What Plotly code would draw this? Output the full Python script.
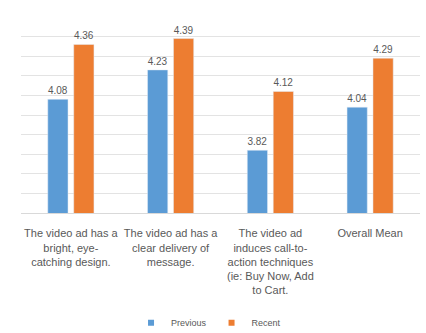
import plotly.graph_objects as go

categories = [
    "The video ad has a<br>bright, eye-<br>catching design.",
    "The video ad has a<br>clear delivery of<br>message.",
    "The video ad<br>induces call-to-<br>action techniques<br>(ie: Buy Now, Add<br>to Cart.",
    "Overall Mean",
]
series_names = ["Previous", "Recent"]
previous = [4.08, 4.23, 3.82, 4.04]
recent = [4.36, 4.39, 4.12, 4.29]
colors = ["#5B9BD5", "#ED7D31"]

font_family = "Liberation Sans, Arial, sans-serif"
label_color = "#595959"

fig = go.Figure()
for name, values, color in zip(series_names, [previous, recent], colors):
    fig.add_trace(go.Bar(
        name=name, x=categories, y=values,
        marker_color=color, legendgroup=name, showlegend=False,
        texttemplate="%{y:.2f}", textposition="outside",
        textfont=dict(size=10, color=label_color, family=font_family),
        cliponaxis=False,
    ))
# small square legend keys
for name, color in zip(series_names, colors):
    fig.add_trace(go.Scatter(
        name=name, x=[None], y=[None], mode="markers",
        marker=dict(symbol="square", size=6, color=color),
        legendgroup=name, showlegend=True, hoverinfo="skip",
    ))

fig.update_layout(
    width=426, height=333,
    margin=dict(l=21, r=6, t=17, b=120, autoexpand=False),
    paper_bgcolor="white", plot_bgcolor="white",
    barmode="group", bargap=0.48, bargroupgap=0.22,
    font=dict(family=font_family, size=10, color=label_color),
    showlegend=True,
    legend=dict(
        orientation="h", x=0.47, xanchor="center", y=-0.56, yanchor="middle",
        font=dict(size=9, color=label_color), itemwidth=30,
        tracegroupgap=0,
    ),
)
fig.update_xaxes(
    showline=True, linecolor="#D9D9D9", linewidth=1,
    ticks="", tickangle=0, automargin=False,
    ticklabelstandoff=10,
    tickfont=dict(size=11, color=label_color),
)
fig.update_yaxes(
    range=[3.5, 4.5], dtick=0.1, automargin=False,
    showgrid=True, gridcolor="#E3E3E3", gridwidth=1,
    showticklabels=False, zeroline=False, ticks="",
)

fig.write_html("out.html")
